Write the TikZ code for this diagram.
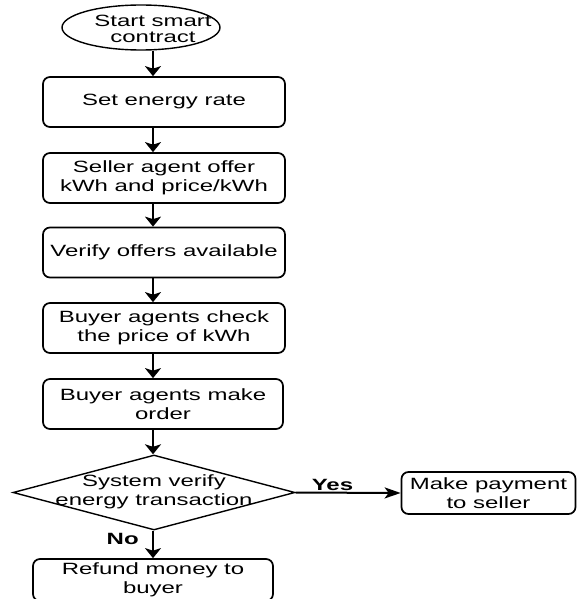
\documentclass[tikz,border=0pt]{standalone}
\usepackage{fontspec}
\setmainfont{Liberation Sans}[FakeStretch=1.47]
\usetikzlibrary{shapes.geometric}
\usetikzlibrary{arrows.meta}
\tikzset{process/.style={draw, rounded corners=7pt, line width=1.7pt, align=center, inner sep=0pt, minimum width=242pt, minimum height=50pt},
  startbox/.style={draw, ellipse, line width=1.4pt, inner sep=0pt, minimum width=158pt, minimum height=45pt},
  decision/.style={draw, diamond, line width=1.4pt, inner sep=0pt, minimum width=282pt, minimum height=75pt},
  flow/.style={->, line width=2pt},
  >={Stealth[length=10pt,width=16pt,inset=2.5pt]}}

\begin{document}
\begin{tikzpicture}[x=1pt, y=-1pt, font=\fontsize{16.3}{19}\selectfont]
      \useasboundingbox (0, 0) rectangle (577, 599);
      \clip (0, 0) rectangle (577, 599);
      \coordinate (axis) at (153, 0);

      \node [startbox] (start) at (141, 27.5) {};
      \node [align=center, font=\fontsize{16.3}{16}\selectfont] (starttext) at (153, 29) {Start smart\\contract};

      \node [process] (rate) at (164, 102) {Set energy rate};
      \node [process] (offer) at (164, 178) {Seller agent offer\\kWh and price/kWh};
      \node [process] (verify) at (164, 252.5) {Verify offers available};
      \node [process] (check) at (164, 328) {Buyer agents check\\the price of kWh};
      \node [process, minimum width=240pt] (order) at (163, 404) {Buyer agents make\\order};

      \node [decision] (decide) at (154, 492.5) {};
      \node [align=center] (decidetext) at (154, 492) {System verify\\energy transaction};

      \node [process, minimum width=174pt, minimum height=42pt] (pay) at (488.5, 493) {Make payment\\to seller};
      \node [process, minimum width=240pt, minimum height=42pt] (refund) at (153, 580) {Refund money to\\buyer};

      \draw [flow] (axis |- start.south) -- (axis |- rate.north);
      \draw [flow] (axis |- rate.south) -- (axis |- offer.north);
      \draw [flow] (axis |- offer.south) -- (axis |- verify.north);
      \draw [flow] (axis |- verify.south) -- (axis |- check.north);
      \draw [flow] (axis |- check.south) -- (axis |- order.north);
      \draw [flow] (axis |- order.south) -- (axis |- decide.north);

      \draw [line width=2pt, -{Stealth[length=16pt,width=11pt,inset=4pt]}] (decide.east) -- (pay.west) node [pos=0.35, above, inner sep=1pt] {\bfseries Yes};
      \draw [flow] (axis |- decide.south) -- (axis |- refund.north) node [pos=0.3, left, xshift=-10pt] {\bfseries No};
    \end{tikzpicture}
\end{document}
